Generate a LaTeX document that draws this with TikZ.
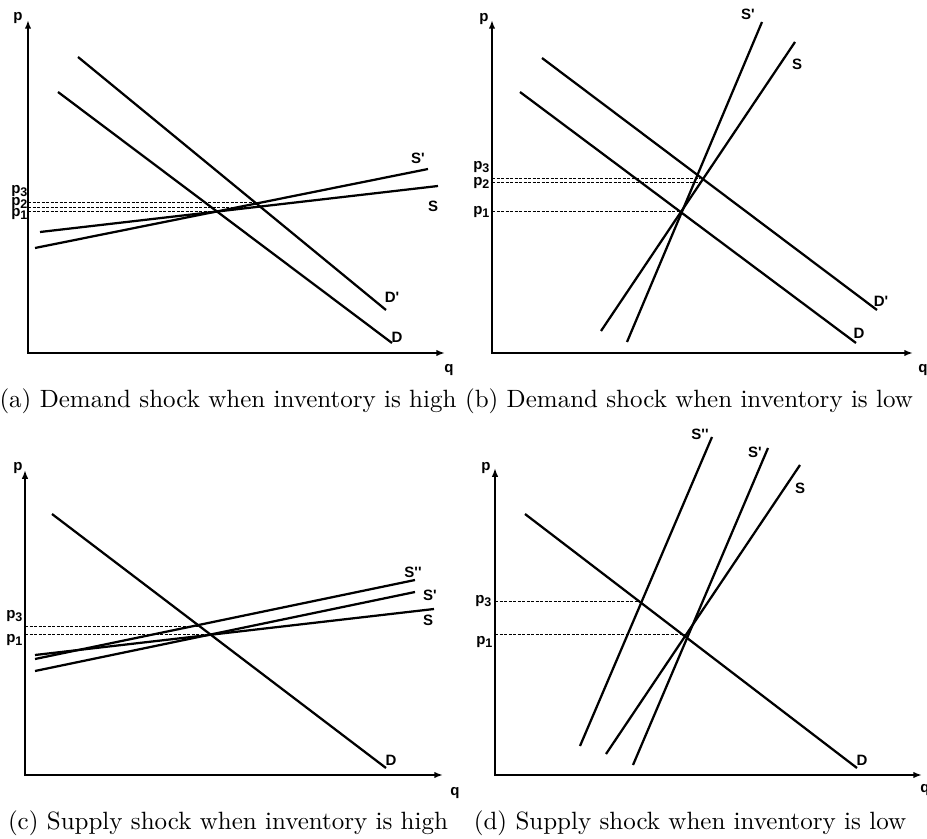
\documentclass[tikz,border=0pt]{standalone}
\usepackage{fontspec}
\newfontfamily\labfont{Liberation Sans}
\usetikzlibrary{arrows.meta}
\newcommand\pl[1]{p\textsubscript{#1}}

\begin{document}
\begin{tikzpicture}[x=0.4pt,y=-0.4pt,
  curve/.style={line width=0.9pt},
  axis/.style={line width=0.9pt,{Latex[length=3.5pt,width=2.6pt]}-{Latex[length=3.5pt,width=2.6pt]}},
  guide/.style={line width=0.3pt,dash pattern=on 1.2pt off 0.6pt},
  lab/.style={font=\labfont\bfseries\fontsize{6}{6}\selectfont,inner sep=0pt}]
  \useasboundingbox (0,0) rectangle (927,839);
  % axes
  \foreach \n/\x/\y/\t/\r in {a/28/353/20/445,b/492/353/20/913,c/25/775/470/443,d/495/775/468/922} {
    \coordinate (O\n) at (\x,\y);
    \coordinate (T\n) at (\x,\t);
    \coordinate (R\n) at (\r,\y);
    \draw[axis] (T\n) |- (R\n);
  }
  \foreach \n/\px/\py/\qx/\qy in {a/18/18/449/370,b/484/19/923/370,c/18/468/455/793,d/486/468/925/790} {
    \node[lab] (p\n) at (\px,\py) {p};
    \node[lab] (q\n) at (\qx,\qy) {q};
  }
  % demand and supply lines
  \foreach \n/\ax/\ay/\bx/\by in {Da/58/92/392/343,Dpa/78/57/386/310,Sa/40/232/438/186,Spa/35/248/428/169,
      Db/520/92/856/343,Dpb/542/58/877/310,Sb/601/331/795/42,Spb/627/342/762/22,
      Dc/52/514/386/768,Sc/35/655/434/609,Spc/35/671/415/592,Sppc/35/659/415/580,
      Dd/525/514/857/768,Sd/606/754/800/465,Spd/633/765/768/448,Sppd/580/746/712/437} {
    \coordinate (\n0) at (\ax,\ay);
    \coordinate (\n1) at (\bx,\by);
    \draw[curve] (\n0) -- (\n1);
  }
  \foreach \n/\t/\x/\y in {Da/D/397/337,Dpa/D'/392/297,Sa/S/433/206,Spa/S'/418/158,
      Db/D/859/333,Dpb/D'/881/301,Sb/S/797/64,Spb/S'/748/14,
      Dc/D/391/760,Sc/S/428/620,Spc/S'/430/595,Sppc/S''/413/572,
      Dd/D/862/760,Sd/S/800/488,Spd/S'/755/452,Sppd/S''/700/434} {
    \node[lab] (l\n) at (\x,\y) {\t};
  }
  % price levels
  \foreach \n/\k/\y/\e/\s/\lx/\ly in {a3/a/202/262/3/20/191,a2/a/207/258/2/20/203,a1/a/211/217/1/20/214,
      b3/b/178/700/3/482/167,b2/b/182/703/2/482/183,b1/b/211/681/1/482/212,
      c3/c/626/198/3/15/616,c1/c/634/211/1/15/640,
      d3/d/601/641/3/484/601,d1/d/634/685/1/485/642} {
    \coordinate (E\n) at (\e,\y);
    \draw[guide] (O\k |- E\n) -- (E\n);
    \node[lab] (p\n) at (\lx,\ly) {\pl{\s}};
  }
  \node (capa) at (228,401) {(a) Demand shock when inventory is high};
  \node (capb) at (689,401) {(b) Demand shock when inventory is low};
  \node (capc) at (228,823) {(c) Supply shock when inventory is high};
  \node (capd) at (690,823) {(d) Supply shock when inventory is low};
\end{tikzpicture}
\end{document}
